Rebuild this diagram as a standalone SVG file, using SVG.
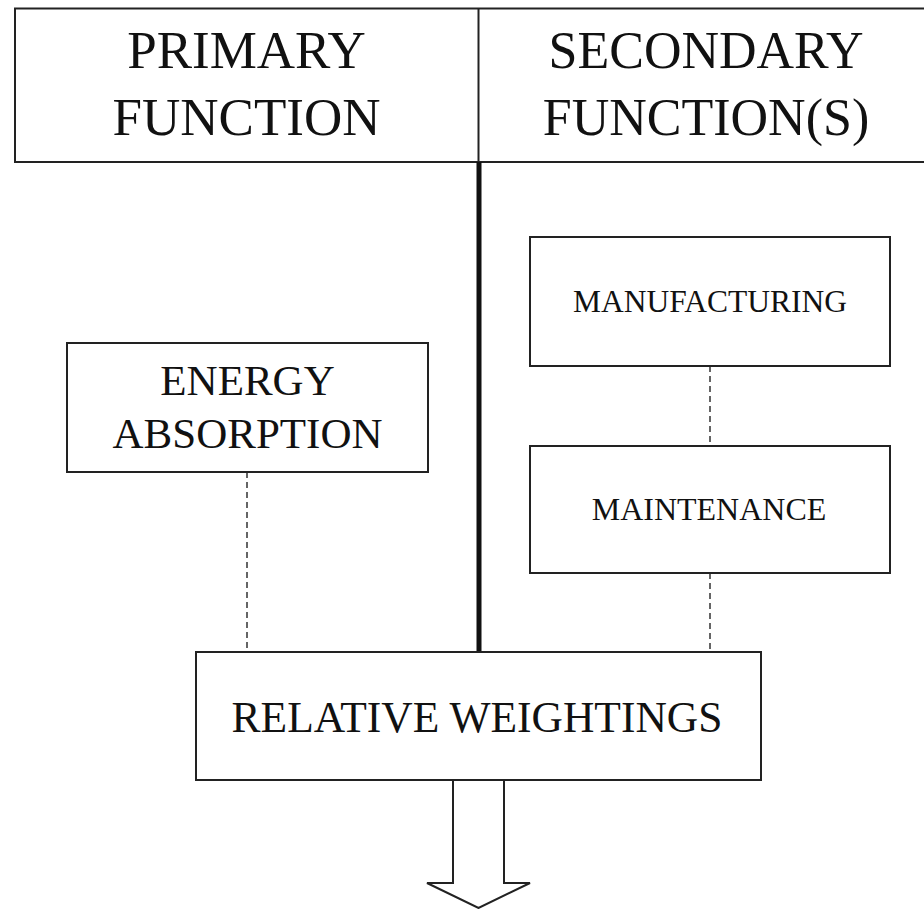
<svg xmlns="http://www.w3.org/2000/svg" width="924" height="909" viewBox="0 0 924 909">
<style>
.box{fill:#fff;stroke:#222;stroke-width:2}
.t{font-family:"Liberation Serif","Times New Roman",serif;fill:#111;text-anchor:middle}
.dash{stroke:#333;stroke-width:1.5;stroke-dasharray:6 4;fill:none}
</style>
<rect width="924" height="909" fill="#fff"/>
<g id="header">
<path d="M932 8.5H15V162H932" class="box"/>
<line x1="478.5" y1="8.5" x2="478.5" y2="162" stroke="#222" stroke-width="2"/>
<text class="t" x="246.5" y="68" font-size="53">PRIMARY</text>
<text class="t" x="246.5" y="135" font-size="53">FUNCTION</text>
<text class="t" x="706" y="68" font-size="52">SECONDARY</text>
<text class="t" x="706" y="135" font-size="52">FUNCTION(S)</text>
</g>
<g id="connectors">
<line x1="479" y1="162" x2="479" y2="652" stroke="#111" stroke-width="5"/>
<line x1="247" y1="472" x2="247" y2="652" class="dash"/>
<line x1="710" y1="366" x2="710" y2="446" class="dash"/>
<line x1="710" y1="573" x2="710" y2="652" class="dash"/>
<path d="M453 780V883H427L478.5 908L530 883H504V780" fill="#fff" stroke="#222" stroke-width="2" stroke-linejoin="miter"/>
</g>
<g id="energy">
<rect x="67" y="343" width="361" height="129" class="box"/>
<text class="t" x="247.5" y="395" font-size="43">ENERGY</text>
<text class="t" x="247.5" y="448" font-size="43">ABSORPTION</text>
</g>
<g id="manufacturing">
<rect x="530" y="237" width="360" height="129" class="box"/>
<text class="t" x="710" y="312" font-size="31.5">MANUFACTURING</text>
</g>
<g id="maintenance">
<rect x="530" y="446" width="360" height="127" class="box"/>
<text class="t" x="709" y="520" font-size="32">MAINTENANCE</text>
</g>
<g id="weightings">
<rect x="196" y="652" width="565" height="128" class="box"/>
<text class="t" x="477" y="732" font-size="43.5">RELATIVE WEIGHTINGS</text>
</g>
</svg>
